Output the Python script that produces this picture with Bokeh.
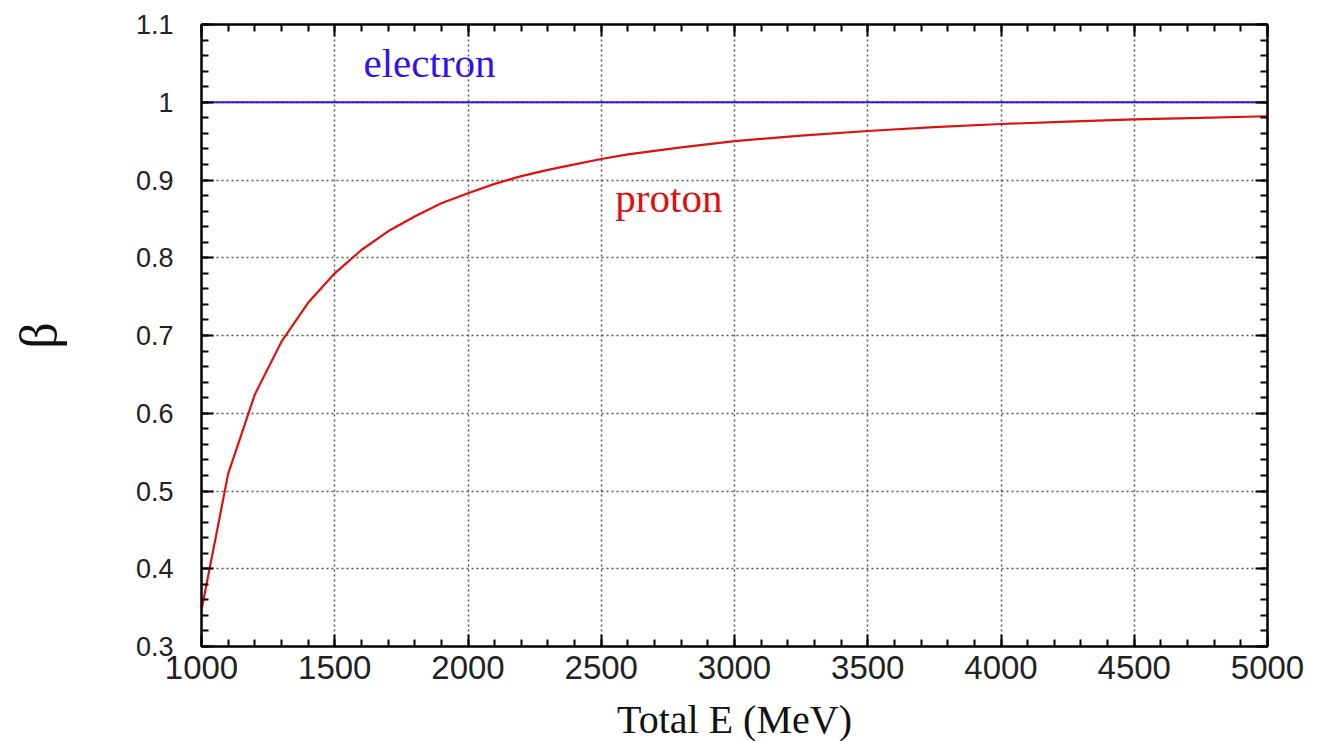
import numpy as np
from bokeh.plotting import figure
from bokeh.models import LinearAxis, FixedTicker, Range1d, Label
from bokeh.embed import file_html
from bokeh.resources import INLINE

# ---- data ----
proton_E = [1000, 1100, 1200, 1300, 1400, 1500, 1600, 1700, 1800, 1900, 2000,
            2100, 2200, 2300, 2400, 2500, 2600, 2800, 3000, 3250, 3500, 3750,
            4000, 4250, 4500, 4750, 5000]
proton_beta = [0.347, 0.522, 0.624, 0.692, 0.742, 0.780, 0.810, 0.834, 0.853,
               0.870, 0.883, 0.895, 0.905, 0.913, 0.920, 0.927, 0.933, 0.942,
               0.950, 0.957, 0.963, 0.968, 0.972, 0.975, 0.978, 0.980, 0.982]
electron_E = [1000, 5000]
electron_beta = [1.0, 1.0]

x_ticks = [1000, 1500, 2000, 2500, 3000, 3500, 4000, 4500, 5000]
y_ticks = [0.3, 0.4, 0.5, 0.6, 0.7, 0.8, 0.9, 1.0, 1.1]
y_tick_labels = ["0.3", "0.4", "0.5", "0.6", "0.7", "0.8", "0.9", "1", "1.1"]
x_minor = list(range(1000, 5001, 100))
y_minor = [round(v, 2) for v in np.arange(0.30, 1.1001, 0.02)]

SERIF = "Liberation Serif"
SANS = "Liberation Sans"

p = figure(frame_width=1066, frame_height=622,
           min_border_left=201, min_border_right=52,
           min_border_top=24, min_border_bottom=87,
           x_range=Range1d(1000, 5000), y_range=Range1d(0.3, 1.1),
           output_backend="svg", toolbar_location=None,
           x_axis_label="Total E (MeV)", y_axis_label="β")

p.background_fill_color = "white"
p.border_fill_color = "white"
p.outline_line_color = "black"
p.outline_line_width = 2

xt = FixedTicker(ticks=x_ticks, minor_ticks=x_minor)
yt = FixedTicker(ticks=y_ticks, minor_ticks=y_minor)

def style_axis(ax, ticker):
    ax.ticker = ticker
    ax.axis_line_color = "black"
    ax.axis_line_width = 2
    ax.major_tick_line_color = "black"
    ax.major_tick_line_width = 2
    ax.minor_tick_line_color = "black"
    ax.minor_tick_line_width = 2
    ax.major_tick_in = 12
    ax.major_tick_out = 0
    ax.minor_tick_in = 7
    ax.minor_tick_out = 0
    ax.major_label_text_font = SANS
    ax.major_label_text_color = "#222222"

xa = p.xaxis[0]
ya = p.yaxis[0]
style_axis(xa, xt)
style_axis(ya, yt)
xa.major_label_text_font_size = "33px"
ya.major_label_text_font_size = "27px"
xa.major_label_standoff = 9
ya.major_label_standoff = 28
ya.major_label_overrides = {t: s for t, s in zip(y_ticks, y_tick_labels)}

xa.axis_label_text_font = SERIF
xa.axis_label_text_font_style = "normal"
xa.axis_label_text_font_size = "40px"
xa.axis_label_text_color = "#111111"
xa.axis_label_standoff = 15

ya.axis_label_text_font = SERIF
ya.axis_label_text_font_style = "normal"
ya.axis_label_text_font_size = "52px"
ya.axis_label_text_color = "#111111"
ya.axis_label_standoff = 66

# mirrored tick marks on the top and right (no labels)
top = LinearAxis()
right = LinearAxis()
style_axis(top, xt)
style_axis(right, yt)
top.major_label_overrides = {t: "" for t in x_ticks}
right.major_label_overrides = {t: "" for t in y_ticks}
top.major_label_standoff = 0
right.major_label_standoff = 0
top.major_label_text_font_size = "1px"
right.major_label_text_font_size = "1px"
p.add_layout(top, "above")
p.add_layout(right, "right")

for g, t in ((p.xgrid[0], xt), (p.ygrid[0], yt)):
    g.ticker = t
    g.grid_line_color = "#555555"
    g.grid_line_width = 1.5
    g.grid_line_dash = "2 3"

p.line(electron_E, electron_beta, line_color="#3311ee", line_width=2.2)
p.line(proton_E, proton_beta, line_color="#dd1111", line_width=2.2)

p.add_layout(Label(x=1608, y=1.051, text="electron", text_font=SERIF,
                   text_font_size="41px", text_color="#3311ee",
                   text_baseline="alphabetic"))
p.add_layout(Label(x=2553, y=0.877, text="proton", text_font=SERIF,
                   text_font_size="41px", text_color="#dd1111",
                   text_baseline="alphabetic"))

open("out.html", "w").write(file_html(p, INLINE))
